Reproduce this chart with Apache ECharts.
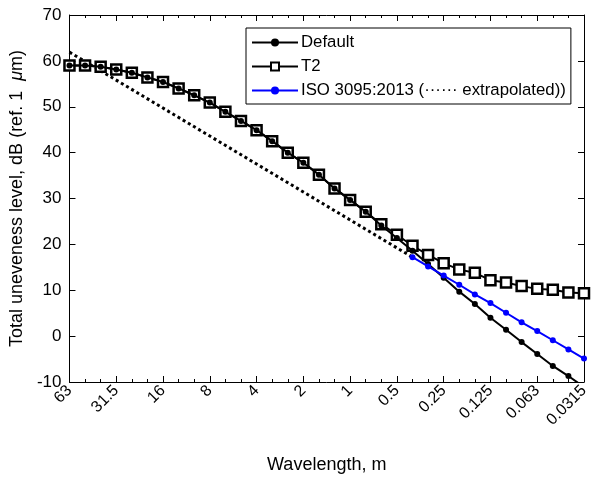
<!DOCTYPE html>
<html>
<head>
<meta charset="utf-8">
<script src="https://cdn.jsdelivr.net/npm/echarts@6/dist/echarts.min.js"></script>
<style>html,body{margin:0;padding:0;background:#fff}#c{width:596px;height:479px}</style>
</head>
<body>
<div id="c"></div>
<script>
// Third-octave wavelength bands (m), left to right
const wavelengths = ['63','50','40','31.5','25','20','16','12.5','10','8','6.3','5','4','3.15','2.5','2','1.6','1.25','1','0.8','0.63','0.5','0.4','0.315','0.25','0.2','0.16','0.125','0.1','0.08','0.063','0.05','0.04','0.0315'];
const tickLabels = ['63','31.5','16','8','4','2','1','0.5','0.25','0.125','0.063','0.0315'];

// Total uneveness level, dB re 1 um
const t2 = [59.0,59.0,58.7,58.1,57.4,56.4,55.4,54.0,52.5,50.9,48.9,46.9,44.9,42.5,40.0,37.8,35.2,32.2,29.7,27.1,24.4,22.1,19.7,17.7,15.9,14.5,13.8,12.2,11.7,10.9,10.3,10.1,9.5,9.35];
const defaultLevel = [59.0,59.0,58.7,58.1,57.4,56.4,55.4,54.0,52.5,50.9,48.9,46.9,44.9,42.5,40.0,37.8,35.2,32.2,29.7,27.1,24.1,21.4,18.6,15.7,12.7,9.7,7.0,4.0,1.4,-1.3,-3.9,-6.5,-8.7,-11.1];
// ISO 3095:2013 limit, from 0.4 m downwards
const isoWavelengths = ['0.4','0.315','0.25','0.2','0.16','0.125','0.1','0.08','0.063','0.05','0.04','0.0315'];
const isoLimit = [17.2,15.2,13.2,11.2,9.1,7.2,5.1,3.0,1.1,-0.9,-2.9,-4.9];
// extrapolated ISO limit (straight dotted line)
const extrapWavelengths = ['63','0.4'];
const extrapLevel = [61.9,17.2];

const idx = w => wavelengths.indexOf(w);
const pairs = (ws, vs) => ws.map((w, i) => [idx(w), vs[i]]);

const FONT = 'Liberation Sans, Arial, sans-serif';
const chart = echarts.init(document.getElementById('c'), null, {renderer: 'canvas'});

const xBase = {
  type: 'value', min: 0, max: wavelengths.length - 1, interval: 3,
  axisLine: {show: true, onZero: false, lineStyle: {color: '#000', width: 1}},
  axisTick: {show: true, inside: true, length: 6, lineStyle: {color: '#000'}},
  minorTick: {show: true, splitNumber: 3, length: 3, lineStyle: {color: '#000'}},
  splitLine: {show: false}
};
const yBase = {
  type: 'value', min: -10, max: 70, interval: 10,
  axisLine: {show: true, onZero: false, lineStyle: {color: '#000', width: 1}},
  axisTick: {show: true, inside: true, length: 6, lineStyle: {color: '#000'}},
  splitLine: {show: false}
};

const option = {
  animation: false,
  backgroundColor: '#fff',
  grid: {left: 68, right: 12, top: 15, bottom: 96},
  legend: {
    orient: 'vertical', left: 246, top: 28,
    data: ['Default', 'T2', 'ISO 3095:2013 (······ extrapolated))'],
    itemWidth: 46, itemHeight: 10, itemGap: 7,
    padding: [6, 5, 5, 5],
    borderColor: '#000', borderWidth: 1, backgroundColor: '#fff',
    textStyle: {fontFamily: FONT, fontSize: 16.8, color: '#000', padding: [0, 0, 0, -2]}
  },
  xAxis: [
    Object.assign({}, xBase, {
      position: 'bottom',
      name: 'Wavelength, m', nameLocation: 'middle', nameGap: 74,
      nameTextStyle: {fontFamily: FONT, fontSize: 18, color: '#000'},
      axisLabel: {
        rotate: 45, margin: 6, fontFamily: FONT, fontSize: 16, color: '#000',
        formatter: v => tickLabels[Math.round(v / 3)]
      }
    }),
    Object.assign({}, xBase, {position: 'top', axisLabel: {show: false}})
  ],
  yAxis: [
    Object.assign({}, yBase, {
      position: 'left',
      name: 'Total uneveness level, dB (ref. 1  {i|μ}m)', nameLocation: 'middle', nameGap: 40,
      nameTextStyle: {fontFamily: FONT, fontSize: 18, color: '#000',
        rich: {i: {fontFamily: FONT, fontSize: 18, fontStyle: 'italic', color: '#000'}}},
      axisLabel: {margin: 8, fontFamily: FONT, fontSize: 17, color: '#000'}
    }),
    Object.assign({}, yBase, {position: 'right', axisLabel: {show: false}})
  ],
  series: [
    {
      name: 'T2', type: 'line', data: pairs(wavelengths, t2),
      symbol: 'rect', symbolSize: 10, showAllSymbol: true,
      lineStyle: {color: '#000', width: 2},
      itemStyle: {color: '#fff', borderColor: '#000', borderWidth: 2.5},
      z: 2
    },
    {
      name: 'Default', type: 'line', data: pairs(wavelengths, defaultLevel),
      symbol: 'circle', symbolSize: 6, showAllSymbol: true,
      lineStyle: {color: '#000', width: 2},
      itemStyle: {color: '#000', borderWidth: 0},
      z: 3
    },
    {
      name: 'ISO 3095:2013 (······ extrapolated))', type: 'line', data: pairs(isoWavelengths, isoLimit),
      symbol: 'circle', symbolSize: 6, showAllSymbol: true,
      lineStyle: {color: '#0000ff', width: 2},
      itemStyle: {color: '#0000ff', borderWidth: 0},
      z: 4
    },
    {
      name: 'extrapolated', type: 'line', data: pairs(extrapWavelengths, extrapLevel),
      symbol: 'none',
      lineStyle: {color: '#000', width: 3, type: [3, 3]},
      z: 1
    }
  ]
};
chart.setOption(option);
</script>
</body>
</html>
